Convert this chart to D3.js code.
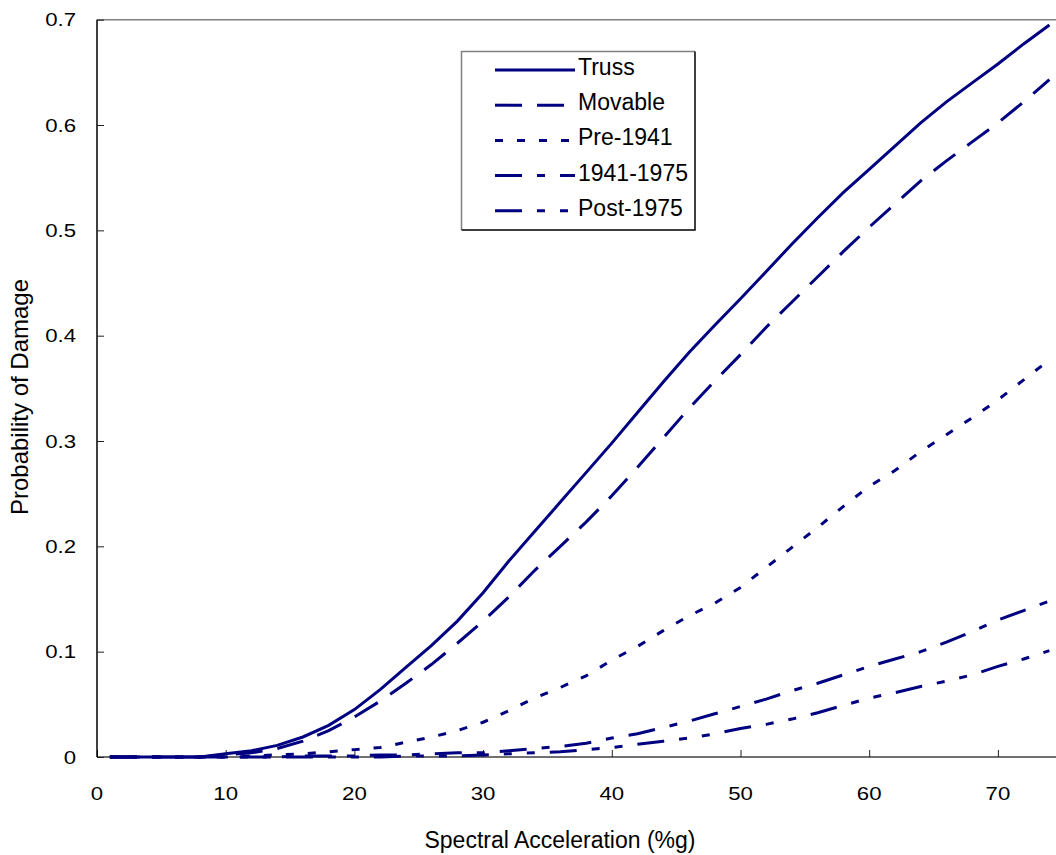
<!DOCTYPE html>
<html>
<head>
<meta charset="utf-8">
<script src="https://cdn.jsdelivr.net/npm/d3@7"></script>
<style>
  body { margin: 0; background: #fff; }
  svg { display: block; font-family: "Liberation Sans", Arial, sans-serif; }
</style>
</head>
<body>
<div id="chart"></div>
<script>
// values (x in %g)
var accel = [1,4,8,10,12,14,16,18,20,22,24,26,28,30,32,34,36,38,40,42,44,46,48,50,52,54,56,58,60,62,64,66,68,70,72,74];

var truss    = [0,0,0,0.003,0.006,0.011,0.019,0.030,0.045,0.064,0.085,0.106,0.129,0.156,0.186,0.214,0.242,0.270,0.298,0.327,0.356,0.384,0.410,0.435,0.461,0.487,0.512,0.536,0.558,0.580,0.602,0.622,0.640,0.658,0.677,0.695];
var movable  = [0,0,0,0.002,0.004,0.008,0.015,0.025,0.038,0.053,0.070,0.088,0.108,0.129,0.152,0.177,0.200,0.223,0.248,0.275,0.303,0.331,0.357,0.382,0.408,0.432,0.456,0.480,0.503,0.525,0.547,0.566,0.584,0.602,0.622,0.643];
var pre1941  = [0,0,0,0,0.001,0.002,0.003,0.005,0.007,0.009,0.014,0.019,0.025,0.033,0.044,0.056,0.066,0.077,0.092,0.105,0.120,0.134,0.146,0.161,0.180,0.199,0.218,0.238,0.257,0.272,0.290,0.306,0.322,0.339,0.358,0.377];
var mid1975  = [0,0,0,0,0,0,0.001,0.001,0.001,0.002,0.002,0.003,0.004,0.004,0.006,0.008,0.010,0.013,0.018,0.022,0.028,0.034,0.041,0.048,0.055,0.063,0.070,0.078,0.086,0.093,0.100,0.109,0.119,0.130,0.139,0.148];
var post1975 = [0,0,0,0,0,0,0,0,0,0,0.001,0.001,0.001,0.002,0.003,0.004,0.005,0.007,0.009,0.012,0.015,0.018,0.022,0.027,0.031,0.036,0.042,0.049,0.056,0.061,0.067,0.072,0.078,0.086,0.093,0.101];

var seriesNames = ["Truss", "Movable", "Pre-1941", "1941-1975", "Post-1975"];
var xTicks = [0,10,20,30,40,50,60,70];
var yTicks = [0,0.1,0.2,0.3,0.4,0.5,0.6,0.7];

var dashes = {
  "Truss": null,
  "Movable": "27,15",
  "Pre-1941": "8,14",
  "1941-1975": "27,15,8,15",
  "Post-1975": "27,15,8,15,8,15"
};

var W = 1056, H = 855;
var navy = "#000080";

var svg = d3.select("#chart").append("svg")
    .attr("width", W).attr("height", H);

var x = d3.scaleLinear().domain([0, 80]).range([97, 97 + 128.7 * 8]);
var y = d3.scaleLinear().domain([0, 0.7]).range([757, 19.7]);

var series = [truss, movable, pre1941, mid1975, post1975].map(function(vals, i) {
    return { name: seriesNames[i], points: accel.map(function(a, j) { return [a, vals[j]]; }) };
});

// top frame line
svg.append("line")
    .attr("x1", x(0)).attr("x2", W)
    .attr("y1", y(0.7)).attr("y2", y(0.7))
    .attr("stroke", "#808080").attr("stroke-width", 1.5);

// axes, ticks pointing inward
var xAxis = svg.append("g")
    .attr("transform", "translate(0," + y(0) + ")")
    .call(d3.axisTop(x).tickValues(xTicks).tickSize(7).tickFormat(""));
xAxis.select(".domain").attr("d", "M" + x(0) + ",0H" + W).attr("stroke", "#404040").attr("stroke-width", 1.5);
xAxis.selectAll(".tick line").attr("stroke", "#202020");

var yAxis = svg.append("g")
    .attr("transform", "translate(" + x(0) + ",0)")
    .call(d3.axisRight(y).tickValues(yTicks).tickSize(7).tickFormat(""));
yAxis.select(".domain").attr("d", "M0," + y(0.7) + "V" + y(0)).attr("stroke", "#000").attr("stroke-width", 1.5);
yAxis.selectAll(".tick line").attr("stroke", "#202020");

// tick labels are drawn a bit wider than the font, as in the picture
svg.selectAll(".xlab").data(xTicks).enter().append("text")
    .attr("transform", function(d) { return "translate(" + x(d) + ",800) scale(1.2,1)"; })
    .attr("text-anchor", "middle")
    .attr("font-size", "18.5px")
    .text(function(d) { return d; });

svg.selectAll(".ylab").data(yTicks).enter().append("text")
    .attr("transform", function(d) { return "translate(76," + (y(d) + 6.5) + ") scale(1.2,1)"; })
    .attr("text-anchor", "end")
    .attr("font-size", "18.5px")
    .text(function(d) { return d === 0 ? "0" : d3.format(".1f")(d); });

svg.append("text")
    .attr("x", 560).attr("y", 848)
    .attr("text-anchor", "middle")
    .attr("font-size", "23px")
    .text("Spectral Acceleration (%g)");

svg.append("text")
    .attr("transform", "translate(28,397) rotate(-90)")
    .attr("text-anchor", "middle")
    .attr("font-size", "24px")
    .text("Probability of Damage");

// curves
var line = d3.line()
    .x(function(d) { return x(d[0]); })
    .y(function(d) { return y(d[1]); });

svg.selectAll(".curve").data(series).enter().append("path")
    .attr("class", "curve")
    .attr("d", function(d) { return line(d.points); })
    .attr("fill", "none")
    .attr("stroke", navy)
    .attr("stroke-width", 3)
    .attr("stroke-dasharray", function(d) { return dashes[d.name]; });

// legend
var lg = svg.append("g");
var lx0 = 461.5, ly0 = 51.5, lx1 = 695, ly1 = 230;
lg.append("rect")
    .attr("x", lx0).attr("y", ly0)
    .attr("width", lx1 - lx0).attr("height", ly1 - ly0)
    .attr("fill", "#fff").attr("stroke", "none");
lg.append("path").attr("d", "M" + lx0 + "," + ly1 + "V" + ly0 + "H" + lx1)
    .attr("fill", "none").attr("stroke", "#808080").attr("stroke-width", 1.5);
lg.append("path").attr("d", "M" + lx0 + "," + ly1 + "H" + lx1 + "V" + ly0)
    .attr("fill", "none").attr("stroke", "#000").attr("stroke-width", 1.5);

var rows = lg.selectAll(".row").data(seriesNames).enter().append("g")
    .attr("transform", function(d, i) { return "translate(0," + (75 + i * 35.2) + ")"; });
rows.append("line")
    .attr("x1", 495).attr("x2", 575)
    .attr("y1", -5).attr("y2", -5)
    .attr("stroke", navy).attr("stroke-width", 3)
    .attr("stroke-dasharray", function(d) { return dashes[d]; });
rows.append("text")
    .attr("x", 578).attr("y", 0)
    .attr("font-size", "23px")
    .text(function(d) { return d; });
</script>
</body>
</html>
